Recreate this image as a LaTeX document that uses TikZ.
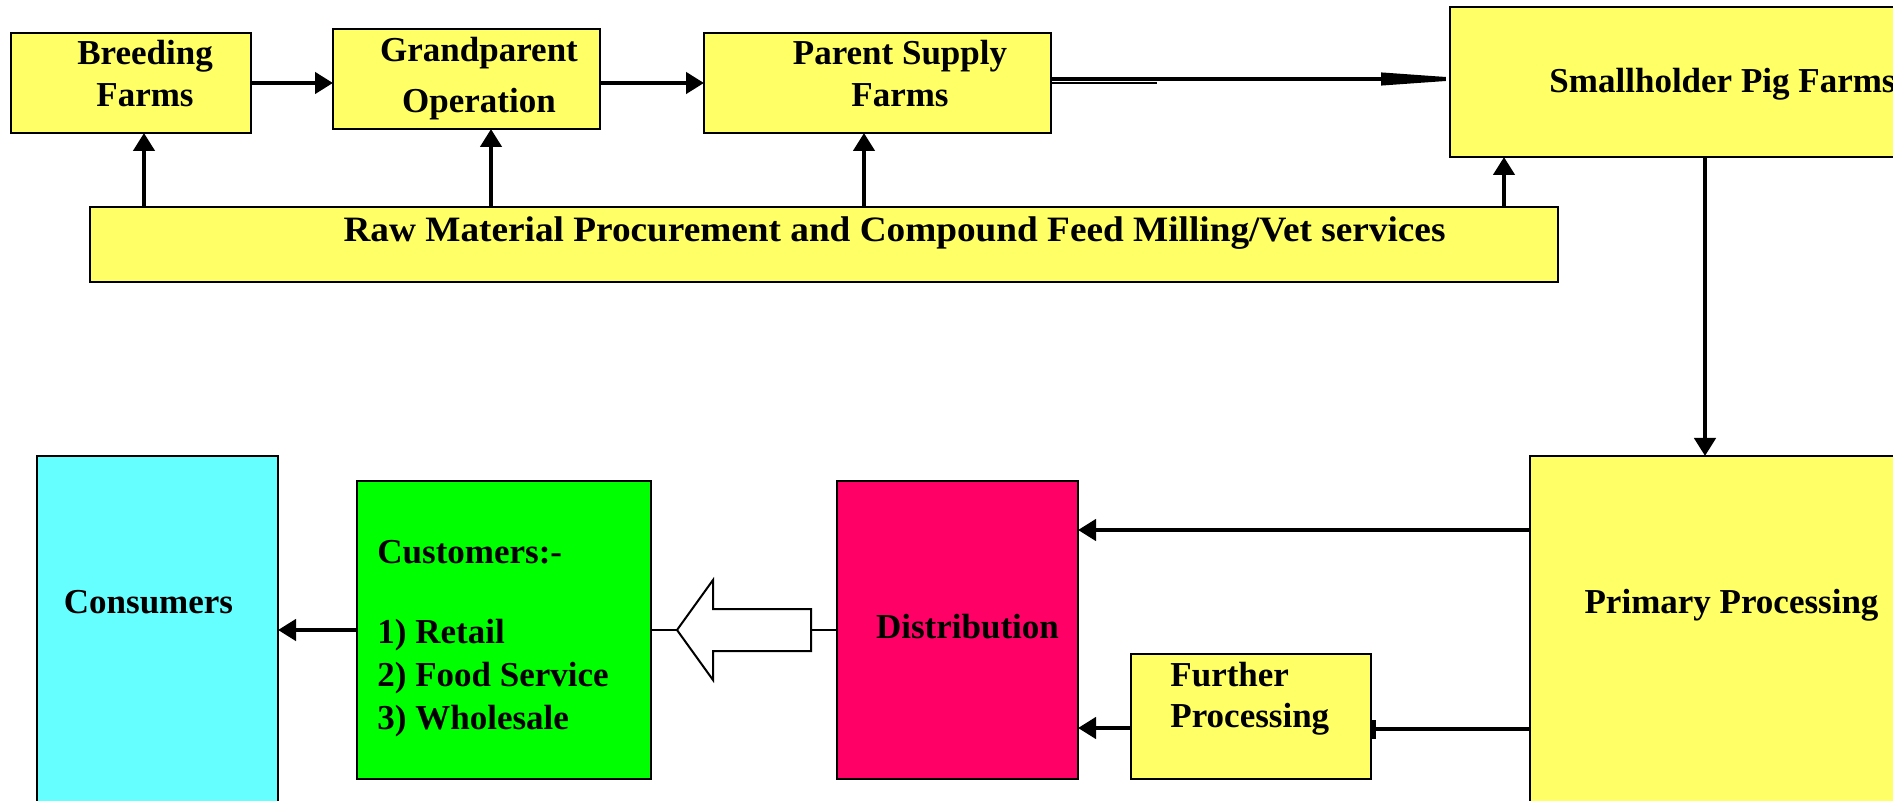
\documentclass[tikz,border=0pt]{standalone}
\usepackage{fontspec}
\usepackage{graphicx}
\setmainfont{Liberation Serif}
\usetikzlibrary{arrows.meta,calc,backgrounds}
\definecolor{yel}{HTML}{FFFF66}
\definecolor{cyn}{HTML}{66FFFF}
\definecolor{grn}{HTML}{00FF00}
\definecolor{mag}{HTML}{FF0066}
\tikzset{
  box/.style={draw=black, line width=1pt, inner sep=0pt, outer sep=0pt},
  txt/.style={font=\fontsize{17.5}{21}\selectfont\bfseries, inner sep=0pt, anchor=base},
  conn/.style={line width=2.2pt, -{Triangle[length=9pt,width=10.5pt]}},
  thinline/.style={line width=1pt}
}
\begin{document}
\begin{tikzpicture}[x=0.5pt,y=-0.5pt]
\useasboundingbox (0,0) rectangle (1893,801);
\clip (0,0) rectangle (1893,801);
% boxes
\node[box, fill=yel, minimum width=120pt, minimum height=50pt] (breed) at (131,83) {};
\node[box, fill=yel, minimum width=133.5pt, minimum height=50pt] (grand) at (466.5,79) {};
\node[box, fill=yel, minimum width=173.5pt, minimum height=50pt] (parent) at (877.5,83) {};
\node[box, fill=yel, minimum width=250pt, minimum height=75pt] (small) at (1700,82) {};
\node[box, fill=yel, minimum width=734pt, minimum height=37.5pt] (raw) at (824,244.5) {};
\node[box, fill=cyn, minimum width=120.5pt, minimum height=197pt] (cons) at (157.5,653) {};
\node[box, fill=grn, minimum width=147pt, minimum height=149pt] (cust) at (504,630) {};
\node[box, fill=mag, minimum width=120.5pt, minimum height=149pt] (dist) at (957.5,630) {};
\node[box, fill=yel, minimum width=120pt, minimum height=62.5pt] (further) at (1251,716.5) {};
\node[box, fill=yel, minimum width=210pt, minimum height=197pt] (primary) at (1740,653) {};
% texts (base anchor = baseline of last line)
\node[txt, align=center] (breed-t) at (145,107) {Breeding\\Farms};
\node[txt, align=center, font=\fontsize{17.5}{25.5}\selectfont\bfseries] (grand-t) at (479,113) {Grandparent\\Operation};
\node[txt, align=center] (parent-t) at (900,107) {Parent Supply\\Farms};
\node[txt] (small-t) at (1722.5,93) {Smallholder Pig Farms};
\node[txt] (raw-t) at (894.5,242) {\scalebox{1.065}[1.02]{Raw Material Procurement and Compound Feed Milling/Vet services}};
\node[txt] (cons-t) at (148.5,613) {Consumers};
\node[txt, align=left, anchor=base west, font=\fontsize{17.5}{21.5}\selectfont\bfseries] (cust-t) at (377,729) {Customers:-\\[18.5pt]1) Retail\\2) Food Service\\3) Wholesale};
\node[txt] (dist-t) at (967.5,638) {Distribution};
\node[txt, align=left, anchor=base west, font=\fontsize{17.5}{20.5}\selectfont\bfseries] (further-t) at (1170,727) {Further\\Processing};
\node[txt] (primary-t) at (1731.5,613) {Primary Processing};
% background: page and the wedge connector running under the Smallholder box
\begin{scope}[on background layer]
\fill[white] (0,0) rectangle (1893,801);
\coordinate (pe) at ([yshift=2pt]parent.east);
\draw[line width=2pt, -{Triangle[length=48.5pt,width=6pt]}] (pe) -- ([xshift=14pt]pe -| small.west);
\end{scope}
% top row connectors
\draw[conn] (breed.east) -- (breed.east -| grand.west);
\draw[conn] (grand.east |- parent.west) -- (parent.west);
\draw[thinline] (parent.east) -- ++(106,0) coordinate (pstub);
% raw material arrows
\draw[conn] ([xshift=6.5pt]breed.south |- raw.north) -- ([xshift=6.5pt]breed.south);
\draw[conn] ([xshift=12.25pt]grand.south |- raw.north) -- ([xshift=12.25pt]grand.south);
\draw[conn] ([xshift=-6.75pt]parent.south |- raw.north) -- ([xshift=-6.75pt]parent.south);
\draw[conn] ([xshift=27pt]small.south west |- raw.north) -- ([xshift=27pt]small.south west);
% down to primary
\draw[conn] ([xshift=2.5pt]small.south) -- ([xshift=2.5pt]small.south |- primary.north);
% primary outputs
\draw[conn] ([yshift=50pt]dist.east -| primary.west) -- ([yshift=50pt]dist.east);
\draw[line width=2.2pt, -{Rectangle[length=2.5pt,width=9.5pt]}] ([yshift=-6.25pt]further.east -| primary.west) -- ([yshift=-6.25pt]further.east);
\draw[conn] ([yshift=-5.75pt]further.west) -- ([yshift=-5.75pt]further.west -| dist.east);
% customers to consumers
\draw[conn] (cust.west) -- (cust.west -| cons.east);
% hollow block arrow distribution -> customers
\draw[thinline] (dist.west) -- ++(-26,0) coordinate (hs);
\draw[thinline, fill=white] (hs) ++(0,-21) -- ++(-98,0) -- ++(0,-29) -- ++(-36,50) coordinate (ht) -- ++(36,50) -- ++(0,-29) -- ++(98,0) -- cycle;
\draw[thinline] (ht) -- (cust.east);
\end{tikzpicture}
\end{document}
